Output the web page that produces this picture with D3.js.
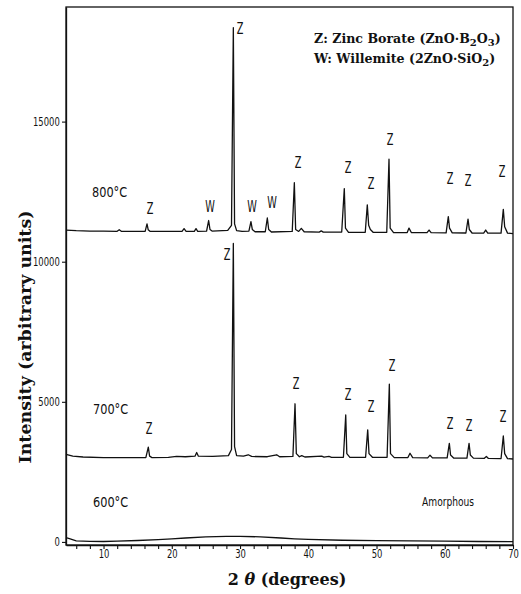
<!DOCTYPE html>
<html><head><meta charset="utf-8">
<script src="https://cdn.jsdelivr.net/npm/d3@7"></script>
<style>body{margin:0;background:#fff} svg{display:block}</style>
</head><body><svg id="c" width="521" height="594"></svg>
<script>
// 2θ (degrees), intensity (arbitrary units)
const series800 = [[4.5,11130],[6,11110],[8,11095],[10,11090],[12.0,11085],[12.3,11140],[12.6,11085],[14,11082],[16.1,11085],[16.37,11350],[16.55,11140],[16.8,11085],[19,11080],[21.5,11080],[21.8,11180],[22.1,11080],[23.3,11085],[23.55,11180],[23.8,11085],[25.1,11090],[25.4,11470],[25.6,11150],[25.9,11095],[28.2,11120],[28.75,11300],[29.02,18350],[29.2,11350],[29.5,11110],[30.3,11080],[31.3,11095],[31.6,11430],[31.8,11150],[32.2,11070],[33.7,11070],[34.0,11560],[34.2,11150],[34.6,11060],[37.65,11080],[37.96,12820],[38.15,11150],[38.6,11080],[38.98,11190],[39.4,11070],[41.6,11055],[41.9,11100],[42.2,11055],[44.9,11060],[45.28,12610],[45.45,11200],[45.9,11050],[48.35,11050],[48.65,12030],[48.85,11300],[49.1,11150],[49.5,11050],[51.5,11050],[51.83,13660],[52.0,11200],[52.5,11040],[54.5,11040],[54.76,11200],[55.1,11040],[57.4,11035],[57.7,11130],[58.0,11035],[60.2,11030],[60.52,11610],[60.7,11200],[61.1,11030],[63.1,11025],[63.41,11520],[63.6,11150],[64.0,11025],[65.7,11020],[66.0,11130],[66.3,11020],[68.25,11020],[68.58,11870],[68.78,11250],[69.2,11020],[70,11000]];
const series700 = [[4.5,3120],[5.5,3060],[7,3030],[10,3010],[13,3005],[16.2,3010],[16.56,3380],[16.75,3060],[17.1,3010],[19.5,3020],[20.7,3050],[22,3040],[23.4,3060],[23.65,3190],[23.9,3060],[26,3050],[28.3,3080],[28.75,3300],[29.02,10650],[29.2,3400],[29.5,3080],[30.5,3060],[31.2,3110],[31.7,3050],[34,3040],[35.37,3110],[35.8,3040],[37.75,3050],[38.06,4930],[38.25,3150],[38.7,3040],[39.04,3080],[39.5,3030],[41.97,3060],[42.3,3025],[43.04,3050],[43.4,3020],[45.15,3020],[45.49,4530],[45.65,3150],[46.1,3020],[48.4,3020],[48.71,4000],[48.9,3150],[49.4,3020],[51.55,3020],[51.88,5630],[52.05,3150],[52.6,3010],[54.6,3010],[54.91,3165],[55.3,3010],[57.5,3000],[57.84,3095],[58.2,3000],[60.35,3000],[60.67,3520],[60.85,3100],[61.3,2995],[63.25,2990],[63.56,3520],[63.75,3100],[64.2,2990],[65.8,2985],[66.1,3050],[66.4,2980],[68.25,2975],[68.58,3780],[68.78,3150],[69.2,2970],[70,2960]];
const series600 = [[4.5,150],[5,120],[6,40],[8,20],[10,15],[12,25],[15,50],[18,80],[20,110],[22,140],[25,180],[28,200],[30,200],[33,180],[36,140],[38,110],[40,90],[45,60],[50,45],[55,35],[60,25],[65,15],[70,10]];

const xTicks = [6,8,10,12,14,16,18,20,22,24,26,28,30,32,34,36,38,40,42,44,46,48,50,52,54,56,58,60,62,64,66,68,70];
const xTickLabels = [10,20,30,40,50,60,70];
const yTicks = [0,5000,10000,15000];

// peak labels: [letter, 2θ, intensity]
const peakLabels800 = [["Z",16.81,11884],["W",25.6,11956],["W",31.76,11956],["W",34.69,12099],["Z",38.5,13526],["Z",45.82,13348],["Z",49.2,12777],["Z",51.98,14347],["Z",60.77,12955],["Z",63.41,12884],["Z",68.39,13205],["Z",30.0,18308]];
const peakLabels700 = [["Z",28.09,10243],["Z",16.66,4033],["Z",38.2,5639],["Z",45.82,5246],["Z",49.2,4818],["Z",52.27,6281],["Z",60.77,4211],["Z",63.56,4140],["Z",68.54,4461]];
const tempLabels = [["800°C",8.31,12491],["700°C",8.46,4747],["600°C",8.46,1410],["Amorphous",56.67,1463]];
const legendLines = [["Z: Zinc Borate (ZnO·B","2","O","3",")"],["W: Willemite (2ZnO·SiO","2",")"]];

const svg = d3.select("#c");
const x = d3.scaleLinear().domain([4.5,70]).range([66,513]);
const y = d3.scaleLinear().domain([-110,19090]).range([545,7]);
const narrow = "'Liberation Sans Narrow','DejaVu Sans Condensed','Arial Narrow',sans-serif";

// frame
svg.append("rect").attr("x",66).attr("y",7).attr("width",447).attr("height",538)
  .attr("fill","none").attr("stroke","#111").attr("stroke-width",1.3);

// axes
const xAxis = svg.append("g").attr("transform","translate(0,545)")
  .call(d3.axisBottom(x).tickValues(xTicks).tickSizeInner(4).tickSizeOuter(0)
    .tickFormat(d => xTickLabels.includes(d) ? d : ""));
xAxis.select(".domain").attr("stroke","#111").attr("stroke-width",1.3);
xAxis.selectAll(".tick line").attr("stroke","#111").attr("stroke-width",1.1);
xAxis.selectAll(".tick text").attr("font-family",narrow).attr("font-size",13)
  .attr("fill","#111").attr("transform","scale(0.72,1)").attr("y",4);

const yAxis = svg.append("g").attr("transform","translate(66,0)")
  .call(d3.axisLeft(y).tickValues(yTicks).tickSizeInner(4).tickSizeOuter(0).tickFormat(d3.format("d")));
yAxis.select(".domain").attr("stroke","#111").attr("stroke-width",1.3);
yAxis.selectAll(".tick line").attr("stroke","#111").attr("stroke-width",1.1);
yAxis.selectAll(".tick text").attr("font-family",narrow).attr("font-size",12)
  .attr("fill","#111").attr("transform","scale(0.78,1)").attr("x",-8);

// data lines
const line = d3.line().x(d => x(d[0])).y(d => y(d[1]));
[series600, series700, series800].forEach(s => {
  svg.append("path").datum(s).attr("d",line).attr("fill","none")
    .attr("stroke","#111").attr("stroke-width",1.3).attr("stroke-linejoin","round");
});

// peak labels
const pl = svg.append("g").attr("font-family",narrow).attr("font-size",15).attr("fill","#111");
peakLabels800.concat(peakLabels700).forEach(d => {
  pl.append("text").attr("transform",`translate(${x(d[1])},${y(d[2])}) scale(0.72,1)`)
    .attr("text-anchor","middle").attr("dy","0.36em").text(d[0]);
});

// temperature labels
tempLabels.forEach((d,i) => {
  svg.append("text").attr("transform",`translate(${x(d[1])},${y(d[2])}) scale(${i<3?0.9:0.78},1)`)
    .attr("dy","0.36em").attr("font-family",narrow).attr("font-size",i<3?14:13)
    .attr("fill","#111").text(d[0]);
});

// legend
const lg = svg.append("g").attr("font-family","'DejaVu Serif',serif").attr("font-weight","bold")
  .attr("font-size",12.6).attr("fill","#111");
legendLines.forEach((parts,i) => {
  const t = lg.append("text").attr("x",314).attr("y",43 + i*20);
  parts.forEach((p,j) => {
    const sub = /^\d$/.test(p);
    const ts = t.append("tspan").text(p);
    if (sub) ts.attr("font-size",10).attr("dy",3);
    else if (j>0 && /^\d$/.test(parts[j-1])) ts.attr("dy",-3);
  });
});

// axis titles
svg.append("text").attr("transform","translate(31,337) rotate(-90)")
  .attr("text-anchor","middle").attr("font-family","'DejaVu Serif',serif").attr("font-weight","bold")
  .attr("font-size",17).attr("fill","#111")
  .attr("textLength",253).attr("lengthAdjust","spacingAndGlyphs")
  .text("Intensity (arbitrary units)");
const xt = svg.append("text").attr("x",287).attr("y",585).attr("text-anchor","middle")
  .attr("font-family","'DejaVu Serif',serif").attr("font-weight","bold").attr("font-size",16).attr("fill","#111");
xt.append("tspan").text("2 ");
xt.append("tspan").attr("font-style","italic").text("θ");
xt.append("tspan").text(" (degrees)");
</script></body></html>
